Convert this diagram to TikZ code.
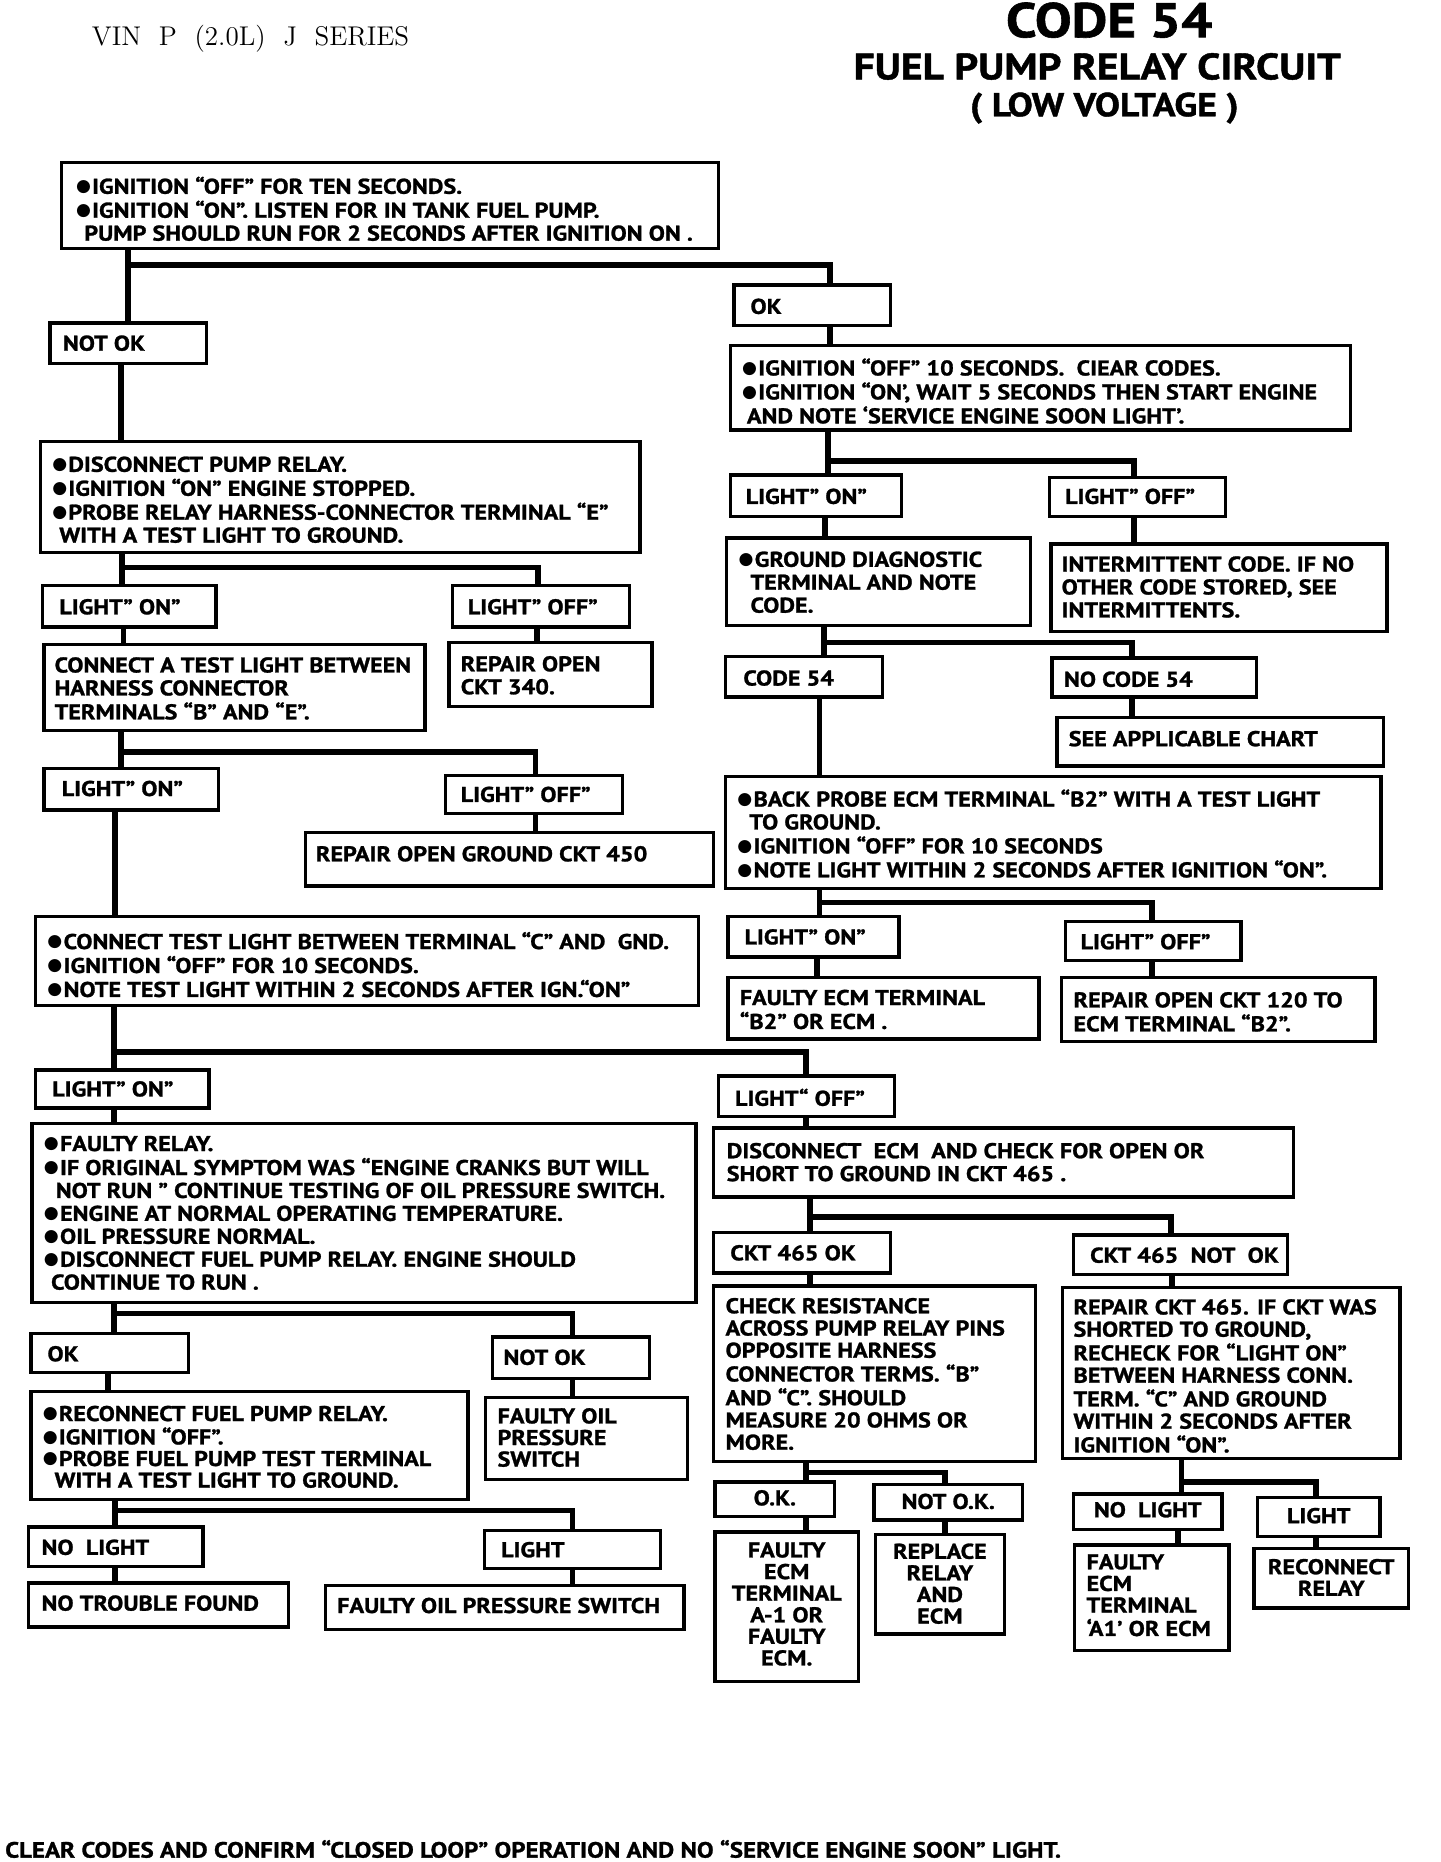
\documentclass[tikz,border=0pt]{standalone}
\usepackage{fontspec}
\usepackage{graphicx}
\usetikzlibrary{backgrounds}
\newfontfamily\ptf{PT Sans}[FakeStretch=1.13,FakeBold=1.2]
\newfontfamily\dvs{DejaVu Sans}
\newlength\un \setlength\un{0.5pt}
\newcommand\bul{\raisebox{0.9pt}{\dvs\fontsize{7.2}{6}\selectfont ●}\kern0.5pt}
\newcommand\bxfont{\ptf\bfseries\fontsize{9}{9.65}\selectfont}
% name x1 y1 x2 y2 textx texty text
\newcommand\bx[8]{\node[boxst] (#1) at (#2,#3) {\parbox[t][\dimexpr\un*(#5-#3)\relax][t]{\dimexpr\un*(#4-#2)\relax}{\vspace*{\dimexpr\un*(#7-#3)-3.6pt\relax}\hspace*{\dimexpr\un*(#6-#2)\relax}\begin{tabular}[t]{@{}l@{}}#8\end{tabular}}};}
% name x1 y1 x2 y2 texty text (centred)
\newcommand\bxc[7]{\node[boxst] (#1) at (#2,#3) {\parbox[t][\dimexpr\un*(#5-#3)\relax][t]{\dimexpr\un*(#4-#2)\relax}{\centering\vspace*{\dimexpr\un*(#6-#3)-3.6pt\relax}\begin{tabular}[t]{@{}c@{}}#7\end{tabular}}};}
\begin{document}
\begin{tikzpicture}[x=0.5pt,y=-0.5pt,
  boxst/.style={draw, line width=1.4pt, fill=white, inner sep=0pt, outer sep=0pt, anchor=north west, font=\bxfont},
  conn/.style={line width=2.4pt, line join=miter},
  ttl/.style={inner sep=0pt, font=\ptf\bfseries}]
\useasboundingbox (0,0) rectangle (1213,1568);
% headings
\node[inner sep=0pt, anchor=west, font=\fontsize{11.4}{12}\selectfont] (vin) at (77,33) {VIN\ \ P\ \ (2.0L)\ \ J\ \ SERIES};
\node[ttl, font=\ptf\bfseries\fontsize{20.5}{22}\selectfont] (t1) at (934,17) {CODE 54};
\node[ttl, font=\ptf\bfseries\fontsize{15.5}{16}\selectfont] (t2) at (924,56) {FUEL PUMP RELAY CIRCUIT};
\node[ttl, font=\ptf\bfseries\fontsize{14}{15}\selectfont] (t3) at (930,91) {( LOW VOLTAGE )};
% left column
\bx{A}{52}{137}{605}{209}{64}{156}{\bul IGNITION “OFF” FOR TEN SECONDS.\\ \bul IGNITION “ON”. LISTEN FOR IN TANK FUEL PUMP.\\ \hspace*{3.5pt}PUMP SHOULD RUN FOR 2 SECONDS AFTER IGNITION ON .}
\bx{NOTOKa}{42}{272}{174}{306}{53}{289}{NOT OK}
\bx{B}{34}{372}{539}{465}{44}{391}{\bul DISCONNECT PUMP RELAY.\\ \bul IGNITION “ON” ENGINE STOPPED.\\ \bul PROBE RELAY HARNESS-CONNECTOR TERMINAL “E”\\ \hspace*{3pt}WITH A TEST LIGHT TO GROUND.}
\bx{BLON}{36}{493}{182}{528}{50}{511}{LIGHT” ON”}
\bx{BLOFF}{381}{493}{530}{528}{394}{511}{LIGHT” OFF”}
\bx{I}{37}{543}{358}{615}{46}{560}{CONNECT A TEST LIGHT BETWEEN\\ HARNESS CONNECTOR\\ TERMINALS “B” AND “E”.}
\bx{J}{378}{541}{549}{595}{388}{559}{REPAIR OPEN\\ CKT 340.}
\bx{ILON}{37}{647}{184}{682}{52}{664}{LIGHT” ON”}
\bx{ILOFF}{375}{653}{524}{685}{388}{669}{LIGHT” OFF”}
\bx{K}{257}{701}{601}{746}{266}{719}{REPAIR OPEN GROUND CKT 450}
\bx{L}{30}{772}{588}{847}{40}{792}{\bul CONNECT TEST LIGHT BETWEEN TERMINAL “C” AND\ \ GND.\\ \bul IGNITION “OFF” FOR 10 SECONDS.\\ \bul NOTE TEST LIGHT WITHIN 2 SECONDS AFTER IGN.“ON”}
\bx{LLON}{30}{901}{176}{933}{44}{917}{LIGHT” ON”}
\bx{M}{27}{946}{586}{1097}{37}{963}{\bul FAULTY RELAY.\\ \bul IF ORIGINAL SYMPTOM WAS “ENGINE CRANKS BUT WILL\\ \hspace*{5pt}NOT RUN ” CONTINUE TESTING OF OIL PRESSURE SWITCH.\\ \bul ENGINE AT NORMAL OPERATING TEMPERATURE.\\ \bul OIL PRESSURE NORMAL.\\ \bul DISCONNECT FUEL PUMP RELAY. ENGINE SHOULD\\ \hspace*{3pt}CONTINUE TO RUN .}
\bx{MOK}{26}{1123}{159}{1156}{40}{1140}{OK}
\bx{MNOK}{415}{1126}{547}{1161}{424}{1143}{NOT OK}
\def\arraystretch{0.92}
\bx{N}{26}{1172}{394}{1263}{36}{1191}{\bul RECONNECT FUEL PUMP RELAY.\\ \bul IGNITION “OFF”.\\ \bul PROBE FUEL PUMP TEST TERMINAL\\ \hspace*{5pt}WITH A TEST LIGHT TO GROUND.}
\bx{O}{409}{1177}{579}{1246}{419}{1193}{FAULTY OIL\\ PRESSURE\\ SWITCH}
\def\arraystretch{1}
\bx{NNL}{24}{1286}{171}{1319}{35}{1303}{NO\ \ LIGHT}
\bx{NL}{408}{1289}{556}{1321}{422}{1305}{LIGHT}
\bx{P}{24}{1333}{243}{1370}{35}{1350}{NO TROUBLE FOUND}
\bx{Q}{274}{1335}{576}{1372}{284}{1352}{FAULTY OIL PRESSURE SWITCH}
% right column
\bx{OKa}{618}{240}{750}{274}{632}{258}{OK}
\bx{C}{615}{291}{1137}{362}{625}{309}{\bul IGNITION “OFF” 10 SECONDS.\ \ CIEAR CODES.\\ \bul IGNITION “ON’, WAIT 5 SECONDS THEN START ENGINE\\ \hspace*{2pt}AND NOTE ‘SERVICE ENGINE SOON LIGHT’.}
\bx{CLON}{615}{400}{759}{435}{628}{418}{LIGHT” ON”}
\bx{CLOFF}{884}{402}{1032}{435}{897}{418}{LIGHT” OFF”}
\bx{D}{612}{453}{868}{527}{622}{471}{\bul GROUND DIAGNOSTIC\\ \hspace*{5pt}TERMINAL AND NOTE\\ \hspace*{5pt}CODE.}
\bx{E}{885}{458}{1168}{532}{894}{475}{INTERMITTENT CODE. IF NO\\ OTHER CODE STORED, SEE\\ INTERMITTENTS.}
\bx{CF}{611}{553}{743}{587}{626}{571}{CODE 54}
\bx{NCF}{886}{554}{1058}{587}{896}{572}{NO CODE 54}
\bx{SEE}{890}{604}{1165}{645}{900}{622}{SEE APPLICABLE CHART}
\bx{F}{611}{654}{1163}{748}{621}{672}{\bul BACK PROBE ECM TERMINAL “B2” WITH A TEST LIGHT\\ \hspace*{5pt}TO GROUND.\\ \bul IGNITION “OFF” FOR 10 SECONDS\\ \bul NOTE LIGHT WITHIN 2 SECONDS AFTER IGNITION “ON”.}
\bx{FLON}{613}{772}{757}{806}{627}{789}{LIGHT” ON”}
\bx{FLOFF}{897}{776}{1045}{809}{910}{793}{LIGHT” OFF”}
\bx{G}{613}{823}{875}{875}{623}{840}{FAULTY ECM TERMINAL\\ “B2” OR ECM .}
\bx{H}{894}{823}{1158}{877}{904}{842}{REPAIR OPEN CKT 120 TO\\ ECM TERMINAL “B2”.}
\bx{LLOFF}{605}{906}{753}{940}{619}{924}{LIGHT“ OFF”}
\bx{R}{601}{950}{1089}{1008}{612}{969}{DISCONNECT\ \ ECM\ \ AND CHECK FOR OPEN OR\\ SHORT TO GROUND IN CKT 465 .}
\bx{SA}{601}{1038}{750}{1072}{615}{1055}{CKT 465 OK}
\bx{SB}{904}{1040}{1084}{1073}{918}{1057}{CKT 465\ \ NOT\ \ OK}
\def\arraystretch{0.97}
\bx{TA}{601}{1083}{872}{1231}{611}{1100}{CHECK RESISTANCE\\ ACROSS PUMP RELAY PINS\\ OPPOSITE HARNESS\\ CONNECTOR TERMS. “B”\\ AND “C”. SHOULD\\ MEASURE 20 OHMS OR\\ MORE.}
\bx{TB}{895}{1084}{1179}{1228}{904}{1101}{REPAIR CKT 465. IF CKT WAS\\ SHORTED TO GROUND,\\ RECHECK FOR “LIGHT ON”\\ BETWEEN HARNESS CONN.\\ TERM. “C” AND GROUND\\ WITHIN 2 SECONDS AFTER\\ IGNITION “ON”.}
\def\arraystretch{0.93}
\bxc{OKb}{602}{1248}{703}{1277}{1262}{O.K.}
\bxc{NOKb}{736}{1250}{861}{1280}{1265}{NOT O.K.}
\bxc{UA}{602}{1290}{723}{1416}{1306}{FAULTY\\ ECM\\ TERMINAL\\ A-1 OR\\ FAULTY\\ ECM.}
\bxc{UB}{737}{1292}{846}{1376}{1307}{REPLACE\\ RELAY\\ AND\\ ECM}
\bxc{NLb}{904}{1258}{1029}{1288}{1272}{NO\ \ LIGHT}
\bxc{Lb}{1059}{1261}{1162}{1294}{1277}{LIGHT}
\bx{VA}{905}{1301}{1035}{1390}{915}{1316}{FAULTY\\ ECM\\ TERMINAL\\ ‘A1’ OR ECM}
\bxc{VB}{1056}{1304}{1186}{1354}{1320}{RECONNECT\\ RELAY}
\def\arraystretch{1}
% footer
\node[inner sep=0pt, anchor=west, font=\ptf\bfseries\fontsize{9.3}{10}\selectfont] (foot) at (4,1557) {CLEAR CODES AND CONFIRM “CLOSED LOOP” OPERATION AND NO “SERVICE ENGINE SOON” LIGHT.};
% connectors
\begin{scope}[on background layer]
\draw[conn] (A.south -| 108,0) -- (NOTOKa.north -| 108,0);
\draw[conn] (108,223) -| (OKa.north -| 699,0);
\draw[conn] (NOTOKa.south -| 102,0) -- (B.north -| 102,0);
\draw[conn] (OKa.south -| 699,0) -- (C.north -| 699,0);
\draw[conn] (C.south -| 697,0) -- (CLON.north -| 697,0);
\draw[conn] (697,388) -| (CLOFF.north -| 955,0);
\draw[conn] (CLON.south -| 695,0) -- (D.north -| 695,0);
\draw[conn] (CLOFF.south -| 955,0) -- (E.north -| 955,0);
\draw[conn] (D.south -| 694,0) -- (CF.north -| 694,0);
\draw[conn] (694,541) -| (NCF.north -| 953,0);
\draw[conn] (NCF.south -| 953,0) -- (SEE.north -| 953,0);
\draw[conn] (CF.south -| 690,0) -- (F.north -| 690,0);
\draw[conn] (F.south -| 690,0) -- (FLON.north -| 690,0);
\draw[conn] (690,760) -| (FLOFF.north -| 970,0);
\draw[conn] (FLON.south -| 688,0) -- (G.north -| 688,0);
\draw[conn] (FLOFF.south -| 970,0) -- (H.north -| 970,0);
\draw[conn] (B.south -| 103,0) -- (BLON.north -| 103,0);
\draw[conn] (103,478) -| (BLOFF.north -| 453,0);
\draw[conn] (BLON.south -| 104,0) -- (I.north -| 104,0);
\draw[conn] (BLOFF.south -| 452,0) -- (J.north -| 452,0);
\draw[conn] (I.south -| 102,0) -- (ILON.north -| 102,0);
\draw[conn] (102,633) -| (ILOFF.north -| 451,0);
\draw[conn] (ILOFF.south -| 451,0) -- (K.north -| 451,0);
\draw[conn] (ILON.south -| 97,0) -- (L.north -| 97,0);
\draw[conn] (L.south -| 96,0) -- (LLON.north -| 96,0);
\draw[conn] (96,886) -| (LLOFF.north -| 679,0);
\draw[conn] (LLON.south -| 96,0) -- (M.north -| 96,0);
\draw[conn] (LLOFF.south -| 679,0) -- (R.north -| 679,0);
\draw[conn] (M.south -| 96,0) -- (MOK.north -| 96,0);
\draw[conn] (96,1106) -| (MNOK.north -| 482,0);
\draw[conn] (MOK.south -| 91,0) -- (N.north -| 91,0);
\draw[conn] (MNOK.south -| 482,0) -- (O.north -| 482,0);
\draw[conn] (N.south -| 97,0) -- (NNL.north -| 97,0);
\draw[conn] (97,1272) -| (NL.north -| 482,0);
\draw[conn] (NNL.south -| 97,0) -- (P.north -| 97,0);
\draw[conn] (NL.south -| 482,0) -- (Q.north -| 482,0);
\draw[conn] (R.south -| 682,0) -- (SA.north -| 682,0);
\draw[conn] (682,1025) -| (SB.north -| 986,0);
\draw[conn] (SA.south -| 682,0) -- (TA.north -| 682,0);
\draw[conn] (SB.south -| 987,0) -- (TB.north -| 987,0);
\draw[conn] (TA.south -| 679,0) -- (OKb.north -| 679,0);
\draw[conn] (679,1240) -| (NOKb.north -| 796,0);
\draw[conn] (OKb.south -| 679,0) -- (UA.north -| 679,0);
\draw[conn] (NOKb.south -| 796,0) -- (UB.north -| 796,0);
\draw[conn] (TB.south -| 995,0) -- (NLb.north -| 995,0);
\draw[conn] (995,1248) -| (Lb.north -| 1108,0);
\draw[conn] (NLb.south -| 992,0) -- (VA.north -| 992,0);
\draw[conn] (Lb.south -| 1108,0) -- (VB.north -| 1108,0);
\end{scope}
\end{tikzpicture}
\end{document}
